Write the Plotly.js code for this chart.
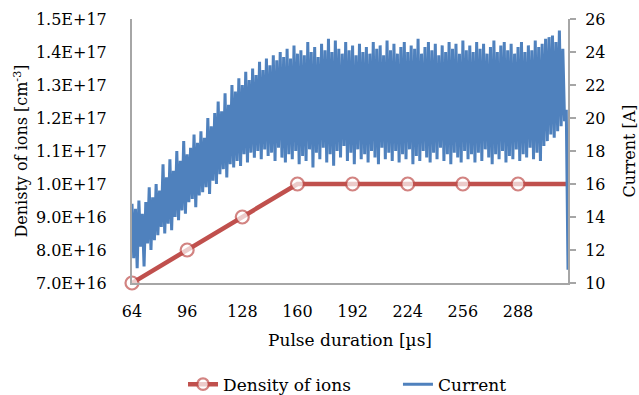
<!DOCTYPE html>
<html><head><meta charset="utf-8">
<script src="https://cdn.plot.ly/plotly-3.0.1.min.js"></script>
<style>html,body{margin:0;padding:0;background:#fff}#chart{width:639px;height:395px}</style>
</head><body><div id="chart"></div>
<script>
// Density of ions (category points, µs)
const pulseDuration = [64, 96, 128, 160, 192, 224, 256, 288, 320];
const densityOfIons = [7.0e16, 8.0e16, 9.0e16, 1.0e17, 1.0e17, 1.0e17, 1.0e17, 1.0e17, 1.0e17];
const densityMarkerShown = [true, true, true, true, true, true, true, true, false];
// Current trace: sampled every 1 µs from 64 µs
const currentStartUs = 64;
const currentStepUs = 1;
const currentA = [
  14.8, 11.5, 14.5, 10.9, 15.0, 12.2, 14.2, 11.0, 14.9, 12.4,
  15.8, 12.0, 15.2, 12.6, 16.0, 12.9, 15.6, 13.4, 17.2, 13.0,
  16.4, 13.6, 17.5, 13.2, 16.8, 14.0, 18.0, 13.8, 17.4, 14.4,
  18.6, 14.2, 17.8, 14.9, 18.2, 15.1, 19.0, 14.6, 18.5, 15.3,
  19.2, 15.5, 18.8, 15.8, 20.0, 15.4, 19.5, 16.2, 20.3, 16.0,
  21.0, 16.6, 20.4, 16.9, 21.5, 16.4, 20.8, 17.2, 22.0, 17.0,
  21.6, 17.4, 22.4, 17.1, 22.0, 17.8, 22.8, 17.3, 22.3, 17.9,
  23.0, 17.6, 22.6, 18.0, 23.4, 17.5, 22.9, 18.1, 23.6, 17.7,
  23.2, 17.9, 23.8, 17.4, 23.5, 18.2, 24.0, 17.6, 23.7, 17.3,
  24.2, 17.8, 23.6, 17.5, 24.4, 18.0, 23.9, 17.2, 24.1, 17.7,
  23.8, 17.4, 24.6, 18.1, 24.0, 17.0, 24.3, 17.9, 23.7, 17.5,
  24.5, 18.2, 24.1, 17.3, 24.8, 17.8, 24.0, 17.1, 24.7, 18.0,
  24.2, 17.6, 23.9, 18.3, 24.6, 17.4, 24.1, 17.9, 24.4, 17.2,
  23.8, 18.1, 24.5, 17.5, 24.0, 17.8, 24.3, 17.3, 23.9, 18.0,
  24.6, 17.6, 24.2, 17.2, 24.4, 18.2, 23.8, 17.5, 24.7, 17.9,
  24.1, 17.4, 24.5, 18.0, 23.9, 17.3, 24.3, 17.8, 24.6, 17.5,
  24.0, 18.1, 24.4, 17.2, 24.2, 17.7, 24.8, 17.4, 23.9, 18.0,
  24.3, 17.6, 24.6, 17.3, 24.1, 17.9, 24.5, 17.5, 23.8, 18.2,
  24.4, 17.4, 24.0, 17.8, 24.6, 17.2, 24.2, 17.9, 24.5, 17.6,
  23.9, 17.3, 24.7, 18.0, 24.1, 17.5, 24.4, 17.8, 24.0, 17.3,
  24.6, 17.9, 24.2, 17.4, 24.5, 18.1, 23.9, 17.6, 24.3, 17.2,
  24.7, 17.8, 24.0, 17.5, 24.4, 18.0, 24.6, 17.3, 24.1, 17.7,
  24.5, 17.5, 23.9, 18.1, 24.3, 17.4, 24.6, 17.8, 24.0, 17.6,
  24.4, 18.2, 24.1, 17.5, 24.7, 17.9, 24.3, 17.4, 24.5, 18.3,
  24.8, 18.6, 24.9, 19.0, 25.0, 18.8, 24.6, 19.2, 25.3, 19.5,
  24.2, 19.8, 20.5, 10.8
];
const leftTickVals = [7.0e16, 8.0e16, 9.0e16, 1.0e17, 1.1e17, 1.2e17, 1.3e17, 1.4e17, 1.5e17];
const leftTickText = ['7.0E+16','8.0E+16','9.0E+16','1.0E+17','1.1E+17','1.2E+17','1.3E+17','1.4E+17','1.5E+17'];
const xTickVals = [64, 96, 128, 160, 192, 224, 256, 288];
const rightTickVals = [10, 12, 14, 16, 18, 20, 22, 24, 26];

const currentTime = currentA.map((_, i) => currentStartUs + i * currentStepUs);
const FONT = 'DejaVu Serif, Liberation Serif, serif';

const traces = [
  {
    x: currentTime, y: currentA, yaxis: 'y2', type: 'scatter', mode: 'lines',
    name: 'Current', line: {color: '#4F81BD', width: 3}, legend: 'legend2'
  },
  {
    x: pulseDuration, y: densityOfIons, type: 'scatter', mode: 'lines+markers',
    name: 'Density of ions', line: {color: '#C0504D', width: 4.5},
    marker: {symbol: 'circle', size: densityMarkerShown.map(s => s ? 13 : 0),
             color: '#FFFFFF', line: {color: '#C0504D', width: 2.2}},
    cliponaxis: false, legend: 'legend'
  }
];

const legendCommon = {orientation: 'h', xanchor: 'left', y: -0.385, yanchor: 'middle',
                      font: {size: 17}, bgcolor: 'rgba(0,0,0,0)'};

const layout = {
  width: 639, height: 395,
  margin: {l: 132, r: 71, t: 19, b: 112, autoexpand: false},
  paper_bgcolor: '#fff', plot_bgcolor: '#fff',
  font: {family: FONT, size: 16, color: '#000'},
  showlegend: true,
  legend: Object.assign({x: 0.117}, legendCommon),
  legend2: Object.assign({x: 0.61}, legendCommon),
  xaxis: {
    range: [64, 317], tickvals: xTickVals, ticktext: xTickVals.map(String),
    showgrid: false, zeroline: false, showline: true, linecolor: '#A6A6A6', linewidth: 2,
    ticks: '', ticklabelstandoff: 13, tickfont: {size: 16},
    title: {text: 'Pulse duration [µs]', font: {size: 17}, standoff: 14}
  },
  yaxis: {
    range: [7.0e16, 1.5e17], tickvals: leftTickVals, ticktext: leftTickText,
    showgrid: false, zeroline: false, showline: true, linecolor: '#A6A6A6', linewidth: 2,
    ticks: '', ticklabelstandoff: 20, tickfont: {size: 16},
    title: {text: 'Denisty of ions [cm<sup>-3</sup>]', font: {size: 16}, standoff: 4}
  },
  yaxis2: {
    overlaying: 'y', side: 'right', range: [10, 26], tickvals: rightTickVals,
    showgrid: false, zeroline: false, showline: true, linecolor: '#A6A6A6', linewidth: 2,
    ticks: 'outside', ticklen: 6, tickwidth: 2, tickcolor: '#A6A6A6', ticklabelstandoff: 6,
    tickfont: {size: 16},
    title: {text: 'Current [A]', font: {size: 16}, standoff: 20}
  }
};

Plotly.newPlot('chart', traces, layout, {staticPlot: true, displayModeBar: false});
</script>
</body></html>
